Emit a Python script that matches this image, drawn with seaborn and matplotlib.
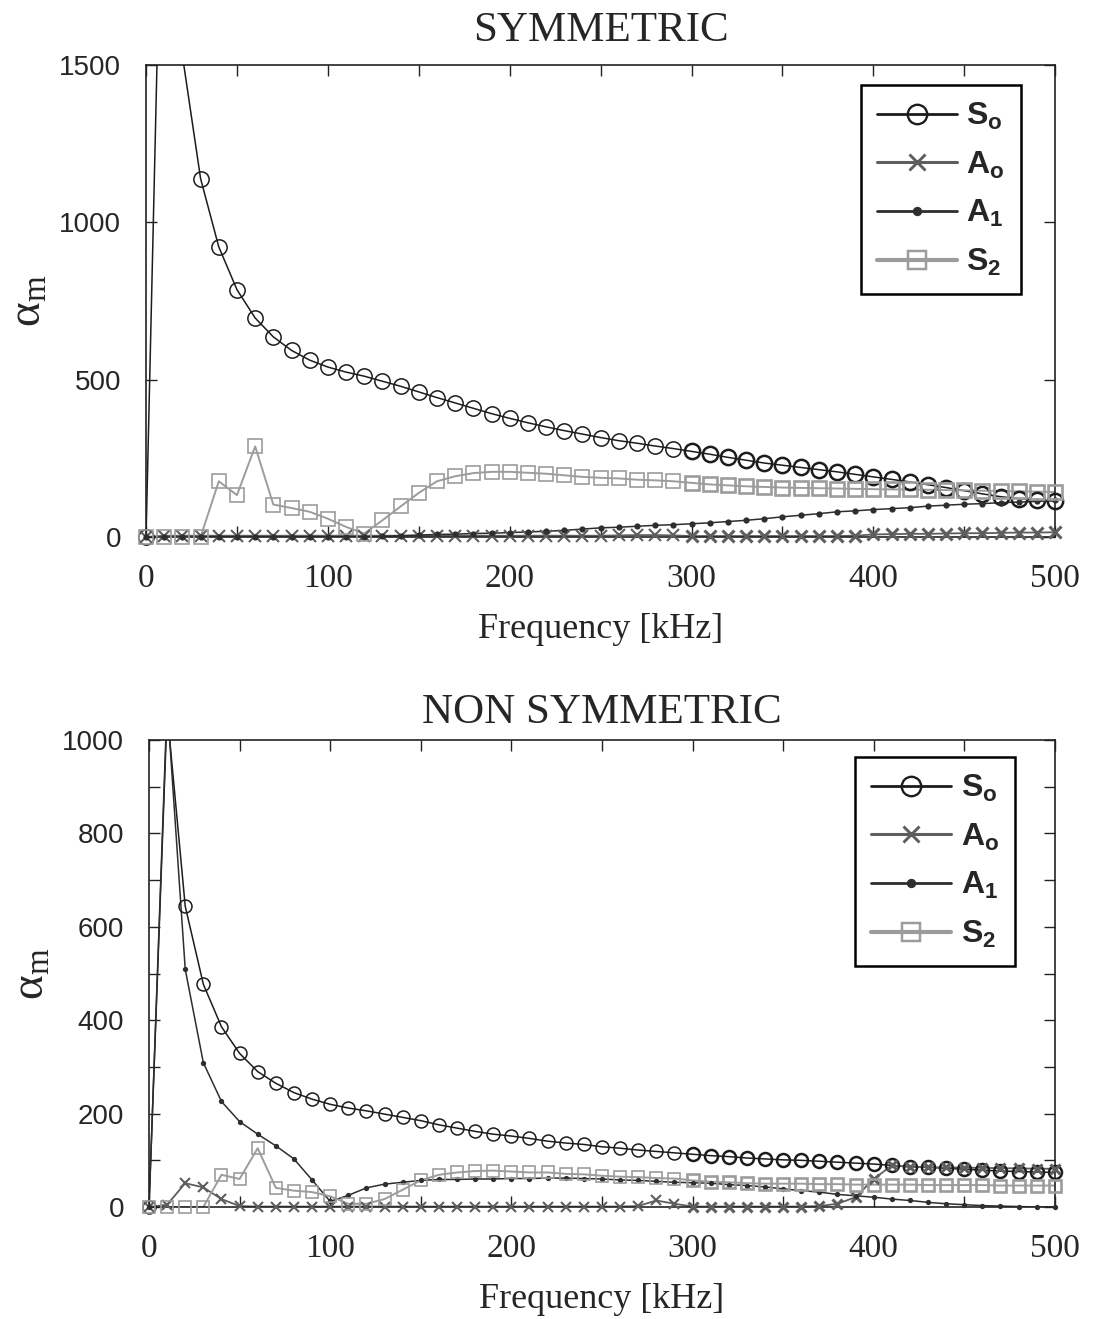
import numpy as np
import matplotlib
matplotlib.use("Agg")
import matplotlib.pyplot as plt
import seaborn as sns
from matplotlib.lines import Line2D
from matplotlib.ticker import MultipleLocator

# -------------------------------
# Data (alpha_m vs frequency, 10 kHz steps)
# -------------------------------
freq_khz = [0, 10, 20, 30, 40, 50, 60, 70, 80, 90,
            100, 110, 120, 130, 140, 150, 160, 170, 180, 190,
            200, 210, 220, 230, 240, 250, 260, 270, 280, 290,
            300, 310, 320, 330, 340, 350, 360, 370, 380, 390,
            400, 410, 420, 430, 440, 450, 460, 470, 480, 490, 500]

mode_labels = [r"$\mathbf{S_o}$", r"$\mathbf{A_o}$", r"$\mathbf{A_1}$", r"$\mathbf{S_2}$"]
panel_titles = ["SYMMETRIC", "NON SYMMETRIC"]

# SYMMETRIC
sym_s0 = [0, 2500, 1530, 1139, 922, 786, 696, 636, 593, 562,
          540, 524, 511, 495, 479, 461, 443, 426, 409, 392,
          377, 363, 350, 338, 327, 316, 306, 298, 289, 281,
          272, 263, 253, 244, 235, 228, 221, 214, 207, 199,
          191, 183, 175, 166, 157, 147, 137, 128, 122, 117, 114]
sym_a0 = [0, 4, 4, 4, 4, 4, 4, 4, 4, 4,
          4, 4, 4, 4, 4, 4, 4, 4, 4, 4,
          4, 4, 4, 4, 4, 4, 5, 6, 6, 5,
          3, 3, 3, 3, 3, 3, 3, 3, 3, 4,
          8, 9, 10, 10, 11, 12, 12, 13, 14, 14, 15]
sym_a1 = [0, 0, 0, 0, 0, 0, 0, 0, 0, 0,
          0, 0, 0, 2, 4, 6, 8, 9, 11, 12,
          14, 16, 18, 21, 25, 29, 31, 34, 37, 39,
          42, 45, 49, 53, 58, 64, 69, 74, 80, 83,
          87, 90, 93, 98, 101, 104, 106, 109, 111, 113, 116]
sym_s2 = [0, 0, 0, 0, 177, 133, 288, 103, 92, 80,
          58, 32, 11, 53, 97, 140, 177, 193, 203, 207,
          207, 204, 201, 196, 191, 188, 186, 182, 180, 177,
          172, 167, 164, 161, 159, 157, 156, 155, 154, 153,
          152, 151, 151, 150, 149, 148, 147, 146, 145, 144, 143]

# NON SYMMETRIC
non_s0 = [0, 1060, 644, 477, 386, 329, 290, 265, 245, 231,
          220, 212, 206, 199, 192, 185, 176, 169, 162, 156,
          152, 147, 141, 137, 134, 129, 126, 122, 119, 116,
          113, 110, 108, 105, 103, 101, 100, 98, 96, 94,
          92, 89, 86, 85, 83, 81, 79, 77, 76, 75, 74]
non_a0 = [0, 5, 51, 42, 17, 2, 1, 1, 1, 1,
          1, 1, 1, 1, 1, 1, 1, 1, 1, 1,
          1, 1, 1, 1, 1, 1, 1, 2, 14, 7,
          1, 1, 1, 1, 1, 1, 1, 2, 7, 21,
          60, 89, 86, 85, 85, 84, 84, 83, 83, 82, 82]
non_a1 = [0, 1080, 509, 309, 226, 183, 156, 131, 103, 58,
          12, 25, 41, 49, 53, 57, 59, 59, 60, 60,
          61, 61, 62, 62, 61, 60, 58, 57, 55, 53,
          52, 51, 48, 46, 43, 39, 35, 32, 27, 24,
          21, 17, 14, 10, 7, 5, 3, 2, 1, 0, 0]
non_s2 = [0, 0, 0, 0, 69, 60, 126, 41, 35, 32,
          23, 7, 7, 17, 37, 57, 69, 74, 77, 78,
          76, 74, 74, 71, 70, 67, 65, 64, 62, 61,
          57, 54, 53, 51, 50, 50, 50, 49, 49, 48,
          48, 48, 48, 47, 47, 47, 47, 46, 46, 46, 46]

# -------------------------------
# Style
# -------------------------------
sns.set_theme(style="ticks")
plt.rcParams["font.family"] = ["Liberation Serif", "DejaVu Serif"]
plt.rcParams["mathtext.fontset"] = "custom"
plt.rcParams["mathtext.rm"] = "Liberation Serif"
plt.rcParams["mathtext.it"] = "Liberation Serif:italic"
plt.rcParams["mathtext.bf"] = "Liberation Sans:bold"
plt.rcParams["axes.linewidth"] = 1.2
plt.rcParams["axes.edgecolor"] = "#222222"

mode_styles = [
    dict(color="#1c1c1c", lw=1.1, marker="o", ms=11, mfc="none", mew=1.1),
    dict(color="#5e5e5e", lw=1.3, marker="x", ms=8, mfc="none", mew=1.5),
    dict(color="#2e2e2e", lw=1.1, marker="o", ms=4.5, mfc="#2e2e2e", mew=0.0),
    dict(color="#9c9c9c", lw=1.4, marker="s", ms=10, mfc="none", mew=1.2),
]
legend_lw = [2.0, 2.2, 2.0, 3.0]
legend_ms = [14, 11, 6, 13]


def draw_panel(ax, series, ymax, ymajor, yminor, title, title_pad, msize, leg_anchor):
    x = np.array(freq_khz)
    for vals, st in zip(series, mode_styles):
        y = np.array(vals, dtype=float)
        sns.lineplot(x=x, y=y, ax=ax, color=st["color"], lw=st["lw"], legend=False)
        inside = y <= ymax
        # markers past 300 kHz are drawn heavier in the original
        for part, extra in [(x < 300, 0.0), (x >= 300, 0.7)]:
            m = inside & part
            ax.plot(x[m], y[m], ls="none", marker=st["marker"], ms=st["ms"] * msize,
                    mfc=st["mfc"], mec=st["color"],
                    mew=(st["mew"] + extra) if st["mew"] > 0 else 0,
                    clip_on=False, zorder=3)

    ax.set_xlim(0, 500)
    ax.set_ylim(0, ymax)
    ax.xaxis.set_major_locator(MultipleLocator(100))
    ax.xaxis.set_minor_locator(MultipleLocator(50))
    ax.yaxis.set_major_locator(MultipleLocator(ymajor))
    if yminor:
        ax.yaxis.set_minor_locator(MultipleLocator(yminor))
    ax.tick_params(which="both", direction="in", top=True, right=True,
                   length=8, width=1.0, color="#222222")
    ax.tick_params(axis="x", labelsize=24, pad=19)
    ax.tick_params(axis="y", labelsize=20, pad=18, labelfontfamily="Liberation Sans")
    ax.set_xlabel("Frequency [kHz]", fontsize=26, labelpad=14)
    ax.set_ylabel(r"$\mathrm{\alpha}_{\mathrm{m}}$", fontsize=34, labelpad=6)
    ax.set_title(title, fontsize=31, pad=title_pad)

    handles = [Line2D([], [], color=st["color"], lw=lw, marker=st["marker"], ms=ms,
                      mfc=st["mfc"], mec=st["color"], mew=max(st["mew"], 0.1) + 0.6)
               for st, lw, ms in zip(mode_styles, legend_lw, legend_ms)]
    leg = ax.legend(handles, mode_labels, loc="upper right", bbox_to_anchor=leg_anchor,
                    borderaxespad=0, frameon=True, fancybox=False, framealpha=1,
                    edgecolor="black", handlelength=2.5, handletextpad=0.3,
                    labelspacing=0.55, borderpad=0.5, prop={"size": 23})
    leg.get_frame().set_linewidth(1.8)


fig = plt.figure(figsize=(10.94, 13.19), dpi=100)
ax_top = fig.add_axes([0.1335, 0.5929, 0.831, 0.3578])
ax_bot = fig.add_axes([0.1362, 0.0849, 0.828, 0.3540])

draw_panel(ax_top, [sym_s0, sym_a0, sym_a1, sym_s2], 1500, 500, None,
           panel_titles[0], 17, 1.0, (0.962, 0.958))
draw_panel(ax_bot, [non_s0, non_a0, non_a1, non_s2], 1000, 200, 100,
           panel_titles[1], 12, 0.85, (0.956, 0.964))

fig.savefig("out.png", dpi=100, facecolor="white")
